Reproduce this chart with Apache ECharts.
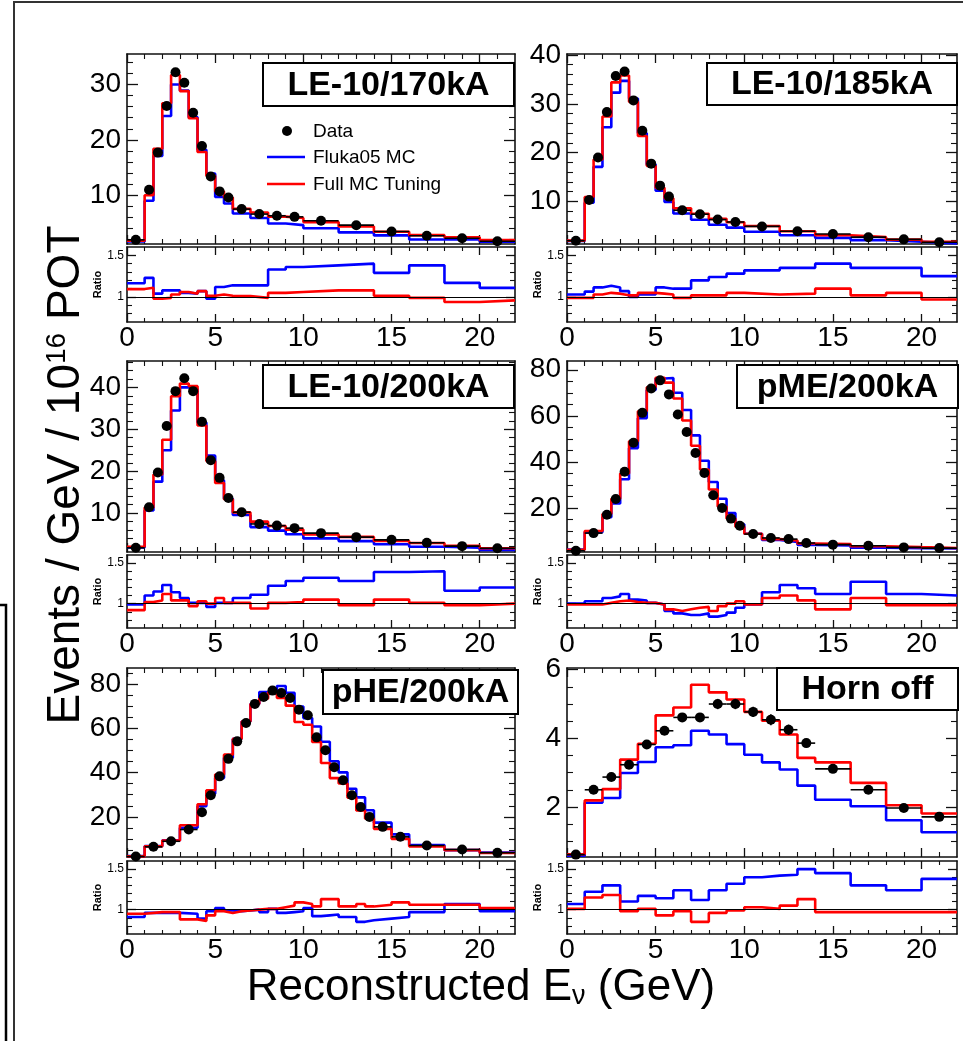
<!DOCTYPE html>
<html>
<head>
<meta charset="utf-8">
<script src="https://cdn.jsdelivr.net/npm/echarts@6/dist/echarts.min.js"></script>
<style>
  html, body { margin: 0; padding: 0; background: #fff; }
  #chart { width: 963px; height: 1041px; }
</style>
</head>
<body>
<div id="chart"></div>
<script>
// ---- Bin edges (GeV) for each beam configuration ----
const edgesLE  = [0, 1, 1.5, 2, 2.5, 3, 3.5, 4, 4.5, 5, 5.5, 6, 7, 8, 9, 10, 12, 14, 16, 18, 20, 22];
const edgesME  = [0, 1, 2, 2.5, 3, 3.5, 4, 4.5, 5, 5.5, 6, 6.5, 7, 7.5, 8, 8.5, 9, 9.5, 10, 11, 12, 13, 14, 16, 18, 20, 22];
const edgesHE  = [0, 1, 2, 3, 4, 4.5, 5, 5.5, 6, 6.5, 7, 7.5, 8, 8.5, 9, 9.5, 10, 10.5, 11, 11.5, 12, 12.5, 13, 13.5, 14, 15, 16, 18, 20, 22];
const edgesOff = [0, 1, 2, 3, 4, 5, 6, 7, 8, 9, 10, 11, 12, 13, 14, 16, 18, 20, 22];

// ---- LE-10/170kA ----
const data170        = [1.95, 11.0, 17.7, 26.1, 32.2, 30.3, 24.9, 18.9, 13.4, 10.7, 9.6, 7.5, 6.6, 6.3, 6.1, 5.4, 4.6, 3.45, 2.7, 2.25, 1.7];
const fluka170       = [1.65, 9.0, 17.1, 24.3, 30.0, 28.9, 24.1, 18.2, 13.9, 9.7, 8.5, 6.7, 5.9, 4.9, 4.6, 4.05, 3.3, 2.75, 2.0, 2.0, 1.6];
const tuned170       = [1.8, 10.0, 18.4, 26.6, 31.7, 28.8, 23.9, 17.8, 13.5, 10.7, 9.6, 7.55, 6.9, 6.15, 5.9, 5.15, 4.35, 3.4, 2.8, 2.4, 1.9];
const ratioFluka170  = [1.165, 1.23, 1.04, 1.08, 1.08, 1.05, 1.04, 1.07, 0.98, 1.12, 1.14, 1.14, 1.14, 1.33, 1.36, 1.38, 1.40, 1.29, 1.38, 1.17, 1.11];
const ratioTuned170  = [1.095, 1.11, 0.98, 0.99, 1.03, 1.06, 1.04, 1.07, 1.015, 1.03, 1.015, 1.01, 0.99, 1.05, 1.06, 1.08, 1.08, 1.015, 0.99, 0.94, 0.96];

// ---- LE-10/185kA ----
const data185        = [1.97, 10.3, 19.0, 28.3, 35.7, 36.6, 30.7, 24.5, 17.75, 13.25, 11.0, 8.2, 7.4, 6.3, 5.8, 4.9, 3.9, 3.35, 2.7, 2.25, 1.65];
const fluka185       = [1.9, 9.75, 17.1, 25.2, 32.3, 34.7, 31.1, 24.0, 17.6, 12.2, 9.9, 7.55, 6.25, 5.25, 4.65, 3.8, 3.1, 2.55, 2.1, 1.75, 1.4];
const tuned185       = [2.0, 10.9, 18.6, 27.4, 34.4, 35.8, 30.4, 23.4, 17.3, 12.8, 10.65, 8.6, 7.5, 6.45, 5.75, 5.0, 3.9, 3.1, 2.7, 2.2, 1.75];
const ratioFluka185  = [1.03, 1.065, 1.115, 1.135, 1.115, 1.07, 1.0, 1.03, 1.03, 1.115, 1.10, 1.10, 1.20, 1.24, 1.28, 1.32, 1.35, 1.40, 1.35, 1.35, 1.25];
const ratioTuned185  = [0.99, 0.99, 1.03, 1.05, 1.04, 1.02, 1.02, 1.05, 1.05, 1.04, 1.03, 0.99, 1.02, 1.02, 1.05, 1.03, 1.04, 1.10, 1.02, 1.05, 0.97];

// ---- LE-10/200kA ----
const data200        = [1.7, 11.4, 19.7, 30.8, 39.1, 42.2, 39.1, 31.8, 22.6, 18.4, 13.6, 10.2, 7.4, 7.0, 6.4, 5.2, 4.25, 3.6, 2.9, 2.1, 1.6];
const fluka200       = [1.8, 10.6, 17.5, 25.0, 34.5, 40.0, 39.6, 31.6, 23.7, 17.8, 13.4, 9.55, 6.65, 5.8, 4.95, 3.95, 3.3, 2.55, 1.95, 1.7, 1.2];
const tuned200       = [1.95, 11.3, 19.2, 27.5, 37.9, 40.9, 40.3, 30.9, 22.4, 17.2, 13.3, 10.15, 7.95, 6.9, 6.05, 4.9, 4.3, 3.35, 2.85, 2.2, 1.6];
const ratioFluka200  = [0.99, 1.10, 1.15, 1.23, 1.14, 1.07, 1.01, 1.01, 0.96, 1.01, 1.01, 1.07, 1.11, 1.22, 1.28, 1.32, 1.28, 1.39, 1.40, 1.16, 1.20];
const ratioTuned200  = [0.92, 1.02, 1.04, 1.12, 1.04, 1.04, 0.97, 1.03, 1.0, 1.07, 1.01, 1.01, 0.94, 1.01, 1.02, 1.05, 0.98, 1.05, 1.01, 0.98, 1.0];

// ---- pME/200kA ----
const dataME         = [1.45, 9.1, 17.1, 23.9, 35.7, 48.3, 61.3, 71.9, 75.4, 69.3, 60.6, 53.0, 43.9, 35.2, 25.5, 20.0, 15.4, 12.3, 8.7, 7.0, 6.5, 4.8, 4.1, 3.6, 2.9, 2.6];
const flukaME        = [2.0, 9.5, 16.0, 22.0, 32.5, 46.0, 59.0, 71.2, 76.2, 76.4, 70.0, 62.5, 51.5, 40.5, 31.3, 24.0, 17.8, 12.9, 8.8, 6.1, 5.3, 4.0, 3.7, 2.8, 2.6, 2.4];
const tunedME        = [1.9, 10.0, 17.4, 24.0, 35.0, 49.0, 62.0, 72.4, 76.5, 74.4, 67.5, 58.0, 47.0, 36.7, 28.0, 20.6, 15.4, 11.9, 8.8, 6.5, 5.9, 4.6, 4.4, 3.4, 3.0, 2.65];
const ratioFlukaME   = [1.0, 1.03, 1.07, 1.09, 1.12, 1.05, 1.04, 1.01, 0.99, 0.91, 0.88, 0.86, 0.86, 0.88, 0.84, 0.86, 0.89, 0.95, 0.99, 1.14, 1.23, 1.19, 1.12, 1.27, 1.12, 1.10];
const ratioTunedME   = [0.99, 0.99, 1.01, 1.03, 1.04, 1.02, 1.01, 1.01, 0.99, 0.93, 0.91, 0.93, 0.95, 0.96, 0.91, 0.97, 1.0, 1.03, 0.99, 1.07, 1.10, 1.04, 0.93, 1.07, 0.98, 0.98];

// ---- pHE/200kA ----
const dataHE         = [2.1, 6.5, 9.0, 14.3, 22.1, 29.8, 38.3, 46.2, 54.1, 62.4, 71.0, 74.1, 77.0, 75.9, 73.7, 68.4, 65.9, 55.9, 50.1, 42.4, 36.5, 29.8, 24.5, 20.0, 15.5, 11.0, 7.1, 5.3, 3.8];
const flukaHE        = [2.3, 6.8, 9.4, 15.1, 24.8, 30.4, 37.5, 46.7, 55.2, 63.0, 71.0, 76.4, 76.2, 79.1, 76.0, 69.8, 64.6, 60.8, 53.9, 45.1, 40.1, 32.7, 28.8, 23.0, 17.4, 12.1, 7.3, 5.0, 3.9];
const tunedHE        = [2.2, 6.7, 9.3, 16.2, 25.7, 32.0, 39.1, 48.1, 55.2, 63.0, 71.0, 73.4, 76.2, 73.7, 70.2, 62.8, 61.6, 53.8, 44.3, 37.5, 35.1, 28.7, 22.9, 19.2, 14.6, 10.1, 6.7, 5.0, 3.7];
const ratioFlukaHE   = [0.91, 0.96, 0.96, 0.95, 0.89, 0.98, 1.02, 0.99, 0.98, 0.99, 1.0, 0.97, 1.01, 0.96, 0.97, 0.98, 1.02, 0.92, 0.93, 0.94, 0.91, 0.91, 0.85, 0.87, 0.89, 0.91, 0.97, 1.07, 0.98];
const ratioTunedHE   = [0.95, 0.97, 0.97, 0.88, 0.86, 0.93, 0.98, 0.96, 0.98, 0.99, 1.0, 1.01, 1.01, 1.03, 1.05, 1.09, 1.07, 1.04, 1.13, 1.13, 1.04, 1.04, 1.07, 1.04, 1.06, 1.09, 1.06, 1.06, 1.02];

// ---- Horn off ----
const dataOff        = [0.61, 2.50, 2.87, 3.23, 3.82, 4.22, 4.61, 4.61, 5.0, 5.0, 4.77, 4.54, 4.25, 3.86, 3.11, 2.50, 1.97, 1.71];
const errOff         = [0.03, 0.07, 0.08, 0.09, 0.10, 0.11, 0.12, 0.12, 0.15, 0.15, 0.15, 0.16, 0.15, 0.13, 0.08, 0.08, 0.07, 0.07];
const flukaOff       = [0.58, 2.12, 2.26, 2.99, 3.31, 3.74, 3.80, 4.22, 4.11, 3.83, 3.52, 3.30, 3.09, 2.62, 2.21, 2.02, 1.61, 1.26];
const tunedOff       = [0.62, 2.19, 2.52, 3.38, 3.84, 4.67, 4.90, 5.56, 5.34, 5.13, 4.77, 4.51, 4.11, 3.43, 3.30, 2.70, 2.05, 1.81];
const ratioFlukaOff  = [1.07, 1.22, 1.30, 1.10, 1.17, 1.14, 1.24, 1.12, 1.24, 1.32, 1.40, 1.42, 1.43, 1.50, 1.45, 1.30, 1.24, 1.38];
const ratioTunedOff  = [1.01, 1.15, 1.18, 0.98, 1.01, 0.93, 0.98, 0.85, 0.96, 0.99, 1.03, 1.01, 1.05, 1.13, 0.97, 0.97, 0.97, 0.97];

// ---- Tick labels ----
const xTickLabels     = [0, 5, 10, 15, 20];
const ratioTickLabels = [1, 1.5];
const yTicks170   = [10, 20, 30];
const yTicks185   = [10, 20, 30, 40];
const yTicks200   = [10, 20, 30, 40];
const yTicksME    = [20, 40, 60, 80];
const yTicksHE    = [20, 40, 60, 80];
const yTicksOff   = [2, 4, 6];

const FONT = "'Liberation Sans', Arial, Helvetica, sans-serif";
const BLUE = '#0000ff';
const RED = '#ff0000';

// Panel layout: column x-extent and row y-extents (main top, main bottom, ratio top, ratio bottom)
const colLeft = [127, 567];
const colWidth = [388, 390];
const rowY = [[54, 244, 247, 322], [361, 552, 555, 628], [668, 857, 861, 934]];

const panels = [
  { title: 'LE-10/170kA', edges: edgesLE, data: data170, fluka: fluka170, tuned: tuned170, rF: ratioFluka170, rT: ratioTuned170,
    yRange: [1.2, 35.5], yMajor: yTicks170, yStep: 2, col: 0, row: 0, box: [263, 63, 251, 43] },
  { title: 'LE-10/185kA', edges: edgesLE, data: data185, fluka: fluka185, tuned: tuned185, rF: ratioFluka185, rT: ratioTuned185,
    yRange: [1.3, 40.2], yMajor: yTicks185, yStep: 2, col: 1, row: 0, box: [707, 63, 250, 42] },
  { title: 'LE-10/200kA', edges: edgesLE, data: data200, fluka: fluka200, tuned: tuned200, rF: ratioFluka200, rT: ratioTuned200,
    yRange: [0.7, 46.3], yMajor: yTicks200, yStep: 2, col: 0, row: 1, box: [263, 365, 251, 43] },
  { title: 'pME/200kA', edges: edgesME, data: dataME, fluka: flukaME, tuned: tunedME, rF: ratioFlukaME, rT: ratioTunedME,
    yRange: [0.9, 83.8], yMajor: yTicksME, yStep: 5, col: 1, row: 1, box: [737, 365, 221, 43] },
  { title: 'pHE/200kA', edges: edgesHE, data: dataHE, fluka: flukaHE, tuned: tunedHE, rF: ratioFlukaHE, rT: ratioTunedHE,
    yRange: [1.9, 87.2], yMajor: yTicksHE, yStep: 5, col: 0, row: 2, box: [323, 670, 195, 44] },
  { title: 'Horn off', edges: edgesOff, data: dataOff, err: errOff, fluka: flukaOff, tuned: tunedOff, rF: ratioFlukaOff, rT: ratioTunedOff,
    yRange: [0.54, 6.05], yMajor: yTicksOff, yStep: 0.5, col: 1, row: 2, box: [777, 668, 181, 42] }
];

// ---- helpers ----
function minorTicks(range, step, major) {
  const out = [];
  const start = Math.ceil(range[0] / step - 1e-9);
  for (let k = start; k * step <= range[1] + 1e-9; k++) {
    const v = Math.round(k * step * 1000) / 1000;
    if (v > range[0] && v < range[1] && major.indexOf(v) < 0) out.push(v);
  }
  return out;
}
function stepPoints(edges, vals) {
  const pts = [];
  vals.forEach((v, i) => { pts.push([edges[i], v]); pts.push([edges[i + 1], v]); });
  return pts;
}

const grid = [], xAxis = [], yAxis = [], series = [];
const X_RANGE = [0, 22];
const RATIO_RANGE = [0.7, 1.6];
const xMinor = minorTicks(X_RANGE, 1, xTickLabels);
const ratioMinor = minorTicks(RATIO_RANGE, 0.1, ratioTickLabels);

// Adds a framed axis (major ticks + line) and a companion axis carrying minor ticks
function addAxis(list, gi, pos, range, major, minor, majLen, minLen, label, extra) {
  const idx = list.length;
  const main = {
    type: 'value', gridIndex: gi, position: pos, min: range[0], max: range[1],
    splitLine: { show: false },
    axisLine: { show: true, onZero: false, lineStyle: { color: '#111', width: 1.6 } },
    axisTick: { show: true, inside: true, length: majLen, customValues: major, lineStyle: { color: '#111', width: 1.3 } },
    axisLabel: label ? Object.assign({ show: true, customValues: major, color: '#000', fontFamily: FONT }, label) : { show: false }
  };
  list.push(Object.assign(main, extra || {}));
  list.push({
    type: 'value', gridIndex: gi, position: pos, min: range[0], max: range[1],
    splitLine: { show: false },
    axisLine: { show: false, onZero: false },
    axisTick: { show: true, inside: true, length: minLen, customValues: minor, lineStyle: { color: '#111', width: 1.1 } },
    axisLabel: { show: false }
  });
  return idx;
}

panels.forEach((p) => {
  const left = colLeft[p.col], width = colWidth[p.col];
  const r = rowY[p.row];
  const gMain = grid.length;
  grid.push({ left: left, width: width, top: r[0], height: r[1] - r[0] });
  const gRatio = grid.length;
  grid.push({ left: left, width: width, top: r[2], height: r[3] - r[2] });

  // main panel axes
  const yMinorList = minorTicks(p.yRange, p.yStep, p.yMajor);
  const xm = addAxis(xAxis, gMain, 'bottom', X_RANGE, xTickLabels, xMinor, 9, 5, null);
  addAxis(xAxis, gMain, 'top', X_RANGE, xTickLabels, xMinor, 9, 5, null);
  const ym = addAxis(yAxis, gMain, 'left', p.yRange, p.yMajor, yMinorList, 11, 6, { fontSize: 28, margin: 6 });
  addAxis(yAxis, gMain, 'right', p.yRange, p.yMajor, yMinorList, 11, 6, null);

  // ratio panel axes
  const xr = addAxis(xAxis, gRatio, 'bottom', X_RANGE, xTickLabels, xMinor, 8, 4, { fontSize: 28, margin: 2 });
  addAxis(xAxis, gRatio, 'top', X_RANGE, xTickLabels, xMinor, 8, 4, null);
  const yr = addAxis(yAxis, gRatio, 'left', RATIO_RANGE, ratioTickLabels, ratioMinor, 9, 5, { fontSize: 12, margin: 3 }, {
    name: 'Ratio', nameLocation: 'middle', nameRotate: 90, nameGap: 19,
    nameTextStyle: { fontFamily: FONT, fontSize: 11, fontWeight: 'bold', color: '#000' }
  });
  addAxis(yAxis, gRatio, 'right', RATIO_RANGE, ratioTickLabels, ratioMinor, 9, 5, null);

  const lineBase = { type: 'line', symbol: 'none', silent: true, animation: false, clip: true };
  series.push(Object.assign({}, lineBase, { xAxisIndex: xm, yAxisIndex: ym, data: stepPoints(p.edges, p.fluka),
    lineStyle: { color: BLUE, width: 2.6 }, z: 3 }));
  series.push(Object.assign({}, lineBase, { xAxisIndex: xm, yAxisIndex: ym, data: stepPoints(p.edges, p.tuned),
    lineStyle: { color: RED, width: 2.6 }, z: 4 }));

  // data: horizontal bars spanning the bin, vertical statistical bars where given
  const errRows = p.data.map((v, i) => [p.edges[i], p.edges[i + 1], v, p.err ? p.err[i] : 0, (p.edges[i] + p.edges[i + 1]) / 2]);
  series.push({
    type: 'custom', xAxisIndex: xm, yAxisIndex: ym, silent: true, animation: false, z: 5,
    encode: { x: [0, 1], y: 2 },
    data: errRows,
    renderItem: (params, api) => {
      const y = api.value(2), e = api.value(3), c = api.value(4);
      const a = api.coord([api.value(0), y]);
      const b = api.coord([api.value(1), y]);
      const kids = [{ type: 'line', shape: { x1: a[0], y1: a[1], x2: b[0], y2: b[1] }, style: { stroke: '#000', lineWidth: 1.6 } }];
      if (e > 0) {
        const t = api.coord([c, y + e]), bt = api.coord([c, y - e]);
        kids.push({ type: 'line', shape: { x1: t[0], y1: t[1], x2: bt[0], y2: bt[1] }, style: { stroke: '#000', lineWidth: 1.6 } });
      }
      return { type: 'group', children: kids };
    }
  });
  series.push({
    type: 'scatter', xAxisIndex: xm, yAxisIndex: ym, silent: true, animation: false, z: 6,
    symbol: 'circle', symbolSize: 10, itemStyle: { color: '#000', opacity: 1 },
    data: p.data.map((v, i) => [(p.edges[i] + p.edges[i + 1]) / 2, v])
  });

  // ratio histograms with the unity line
  series.push(Object.assign({}, lineBase, { xAxisIndex: xr, yAxisIndex: yr, data: stepPoints(p.edges, p.rF),
    lineStyle: { color: BLUE, width: 2.6 }, z: 3,
    markLine: { silent: true, symbol: ['none', 'none'], label: { show: false }, animation: false,
      lineStyle: { color: '#000', width: 1, type: 'solid' }, data: [{ yAxis: 1 }] } }));
  series.push(Object.assign({}, lineBase, { xAxisIndex: xr, yAxisIndex: yr, data: stepPoints(p.edges, p.rT),
    lineStyle: { color: RED, width: 2.6 }, z: 4 }));
});

// ---- annotations: frame, axis titles, configuration labels, legend ----
const graphic = [
  { type: 'rect', shape: { x: 14, y: 2, width: 1000, height: 1100 }, style: { fill: 'none', stroke: '#333', lineWidth: 2 }, silent: true },
  { type: 'polyline', shape: { points: [[0, 605], [6, 605], [6, 1045]] }, style: { fill: 'none', stroke: '#000', lineWidth: 2.5 }, silent: true },
  {
    type: 'text', x: 66, y: 475, rotation: Math.PI / 2, silent: true,
    style: {
      text: '{a|Events / GeV / 10}{s|16}{a| POT}', align: 'center', verticalAlign: 'middle',
      rich: {
        a: { fontFamily: FONT, fontSize: 46, fill: '#000' },
        s: { fontFamily: FONT, fontSize: 28, fill: '#000', verticalAlign: 'top' }
      }
    }
  },
  {
    type: 'text', x: 481, y: 988, silent: true,
    style: {
      text: '{a|Reconstructed E}{s|ν}{a| (GeV)}', align: 'center', verticalAlign: 'middle',
      rich: {
        a: { fontFamily: FONT, fontSize: 44, fill: '#000' },
        s: { fontFamily: FONT, fontSize: 27, fill: '#000', verticalAlign: 'bottom' }
      }
    }
  }
];
panels.forEach((p) => {
  const [bx, by, bw, bh] = p.box;
  graphic.push({ type: 'rect', shape: { x: bx, y: by, width: bw, height: bh }, style: { fill: '#fff', stroke: '#000', lineWidth: 2 }, z: 100, silent: true });
  graphic.push({ type: 'text', x: bx + bw / 2, y: by + bh / 2 + 1, z: 101, silent: true,
    style: { text: p.title, fontFamily: FONT, fontSize: 34, fontWeight: 'bold', fill: '#000', align: 'center', verticalAlign: 'middle' } });
});
const legendItems = [
  { label: 'Data', kind: 'marker', y: 131 },
  { label: 'Fluka05 MC', kind: 'line', color: BLUE, y: 157 },
  { label: 'Full MC Tuning', kind: 'line', color: RED, y: 184 }
];
legendItems.forEach((it) => {
  if (it.kind === 'marker') {
    graphic.push({ type: 'circle', shape: { cx: 287, cy: it.y, r: 5 }, style: { fill: '#000' }, z: 100, silent: true });
  } else {
    graphic.push({ type: 'line', shape: { x1: 267, y1: it.y, x2: 305, y2: it.y }, style: { stroke: it.color, lineWidth: 2.6 }, z: 100, silent: true });
  }
  graphic.push({ type: 'text', x: 313, y: it.y + 1, z: 100, silent: true,
    style: { text: it.label, fontFamily: FONT, fontSize: 19, fill: '#000', align: 'left', verticalAlign: 'middle' } });
});

const chart = echarts.init(document.getElementById('chart'), null, { renderer: 'canvas', width: 963, height: 1041 });
chart.setOption({
  animation: false,
  backgroundColor: '#fff',
  grid: grid,
  xAxis: xAxis,
  yAxis: yAxis,
  series: series,
  graphic: graphic
});
</script>
</body>
</html>
